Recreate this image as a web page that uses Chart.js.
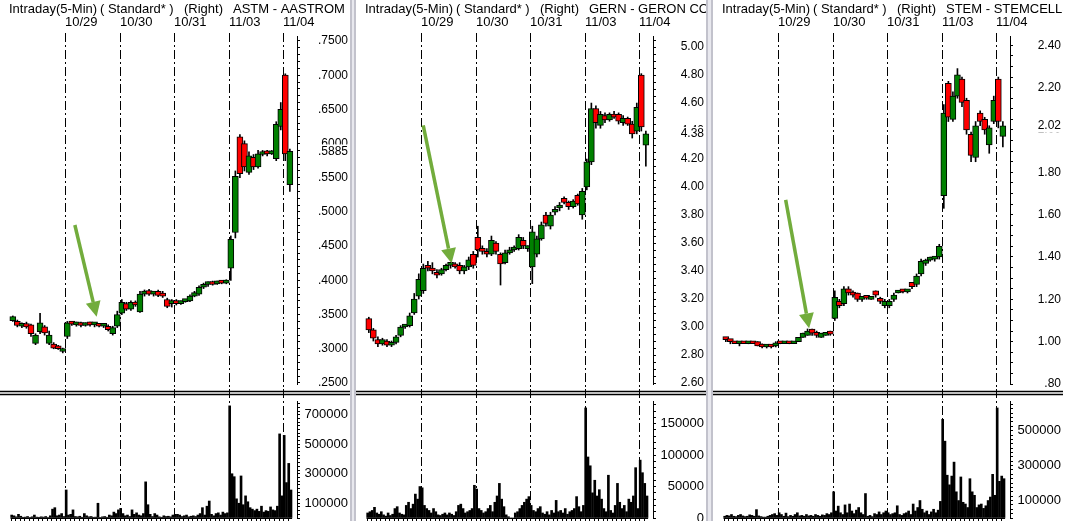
<!DOCTYPE html>
<html>
<head>
<meta charset="utf-8">
<script src="https://cdn.jsdelivr.net/npm/chart.js@4.4.0/dist/chart.umd.min.js"></script>
<style>
  body { margin: 0; background: #fff; width: 1065px; height: 521px; overflow: hidden; position: relative; }
  .panel { position: absolute; top: 0; width: 350px; height: 521px; overflow: hidden; }
  .panel canvas { position: absolute; left: 0; top: 0; }
  .split { position: absolute; top: 0; height: 521px; box-sizing: border-box;
           background: #e8e8ee; border-left: 2px solid #c2c2cc; border-right: 2px solid #c2c2cc; }
</style>
</head>
<body>
<div class="panel" style="left:0px">
  <canvas id="price0" width="350" height="389"></canvas>
  <canvas id="vol0" width="350" height="132" style="top:389px"></canvas>
</div>
<div class="split" style="left:350px;width:6px"></div>
<div class="panel" style="left:356px">
  <canvas id="price1" width="350" height="389"></canvas>
  <canvas id="vol1" width="350" height="132" style="top:389px"></canvas>
</div>
<div class="split" style="left:706px;width:7px"></div>
<div class="panel" style="left:713px;width:352px">
  <canvas id="price2" width="350" height="389"></canvas>
  <canvas id="vol2" width="350" height="132" style="top:389px"></canvas>
</div>

<script>
// Дни и подписи (12 свечей на день, 24 столбца объёма на день)
const dayLabels = ['10/29', '10/30', '10/31', '11/03', '11/04'];
const headerParts = ['Intraday(5-Min)', '( Standard* )', '(Right)'];
const candlesPerDay = 12;
const volPerDay = 24;

// ASTM - AASTROM
const astmOpen = [
  .341, .340, .333, .337, .335, .308, .325, .332, .308, .307, .303, .296,
  .318, .337, .335, .338, .334, .337, .335, .334, .333, .333, .322, .333,
  .352, .366, .358, .366, .354, .380, .385, .380, .384, .381, .372, .366,
  .370, .366, .369, .370, .377, .380, .390, .394, .397, .395, .398, .396,
  .418, .470, .610, .600, .558, .580, .566, .584, .589, .585, .578, .625,
  .700, .540
];
const astmHigh = [
  .348, .342, .338, .339, .336, .322, .352, .334, .326, .309, .305, .301,
  .340, .340, .339, .339, .338, .339, .337, .335, .335, .335, .333, .355,
  .372, .368, .370, .370, .384, .386, .387, .384, .386, .384, .374, .372,
  .372, .370, .371, .379, .384, .392, .396, .398, .399, .399, .400, .401,
  .465, .560, .613, .604, .588, .584, .590, .590, .590, .590, .632, .660,
  .702, .592
];
const astmLow = [
  .340, .332, .331, .330, .318, .306, .322, .320, .306, .300, .299, .294,
  .315, .334, .333, .332, .333, .333, .332, .332, .331, .326, .320, .331,
  .350, .356, .356, .362, .353, .377, .378, .377, .376, .375, .360, .361,
  .364, .365, .368, .369, .376, .378, .388, .391, .393, .394, .395, .395,
  .400, .462, .550, .560, .555, .562, .564, .582, .582, .584, .575, .620,
  .575, .530
];
const astmClose = [
  .347, .334, .337, .332, .322, .320, .338, .323, .320, .301, .300, .300,
  .338, .336, .338, .334, .337, .335, .336, .333, .334, .328, .331, .350,
  .368, .358, .368, .364, .380, .384, .380, .383, .378, .377, .362, .369,
  .366, .369, .370, .377, .382, .390, .394, .396, .394, .398, .396, .400,
  .460, .552, .556, .566, .582, .566, .585, .588, .585, .588, .628, .650,
  .585, .5885
];
const astmVolume = [
  20000, 15000, 8000, 25000, 12000, 5000, 6000, 10000, 4000, 8000, 20000, 6000, 5000, 8000, 6000, 10000, 3000, 15000, 60000, 70000, 15000, 20000, 30000, 10000,
  190000, 20000, 25000, 55000, 10000, 8000, 12000, 5000, 30000, 15000, 8000, 10000, 5000, 6000, 100000, 4000, 8000, 10000, 5000, 20000, 15000, 40000, 30000, 55000,
  65000, 30000, 15000, 20000, 10000, 55000, 25000, 35000, 20000, 15000, 30000, 245000, 90000, 25000, 10000, 30000, 20000, 8000, 5000, 15000, 10000, 12000, 8000, 20000,
  25000, 25000, 20000, 10000, 15000, 20000, 8000, 12000, 15000, 10000, 20000, 30000, 70000, 20000, 80000, 115000, 25000, 15000, 30000, 35000, 20000, 40000, 30000, 35000,
  760000, 300000, 280000, 130000, 100000, 285000, 90000, 150000, 110000, 70000, 60000, 50000, 60000, 45000, 80000, 40000, 50000, 45000, 75000, 55000, 50000, 80000, 570000, 150000,
  560000, 240000, 370000, 190000
];
const astmPriceTicks = [.25, .30, .35, .40, .45, .50, .55, .60, .65, .70, .75];
const astmVolTicks = [100000, 300000, 500000, 700000];
const astmArrow = { from: [1.18, .481], to: [1.58, .347] };

// GERN - GERON
const gernOpen = [
  3.06, 2.98, 2.91, 2.88, 2.90, 2.87, 2.89, 2.94, 3.00, 3.01, 3.10, 3.22,
  3.26, 3.44, 3.42, 3.38, 3.38, 3.41, 3.44, 3.45, 3.44, 3.40, 3.43, 3.52,
  3.64, 3.56, 3.54, 3.52, 3.60, 3.52, 3.46, 3.53, 3.55, 3.56, 3.62, 3.56,
  3.43, 3.52, 3.63, 3.80, 3.72, 3.82, 3.85, 3.92, 3.89, 3.86, 3.94, 3.80,
  4.00, 4.18, 4.56, 4.44, 4.51, 4.48, 4.52, 4.52, 4.46, 4.49, 4.45, 4.40,
  4.80, 4.30
];
const gernHigh = [
  3.07, 2.99, 2.93, 2.92, 2.91, 2.90, 2.94, 3.01, 3.02, 3.10, 3.24, 3.38,
  3.45, 3.47, 3.46, 3.41, 3.42, 3.45, 3.46, 3.46, 3.46, 3.44, 3.50, 3.54,
  3.72, 3.58, 3.56, 3.65, 3.61, 3.53, 3.55, 3.57, 3.58, 3.66, 3.64, 3.58,
  3.72, 3.65, 3.75, 3.82, 3.82, 3.86, 3.89, 3.93, 3.90, 3.91, 3.95, 3.99,
  4.20, 4.60, 4.58, 4.54, 4.53, 4.53, 4.54, 4.53, 4.51, 4.50, 4.47, 4.60,
  4.81, 4.40
];
const gernLow = [
  2.96, 2.90, 2.86, 2.87, 2.86, 2.86, 2.88, 2.93, 2.99, 3.00, 3.09, 3.20,
  3.24, 3.40, 3.38, 3.35, 3.37, 3.40, 3.42, 3.42, 3.38, 3.38, 3.41, 3.42,
  3.50, 3.52, 3.50, 3.51, 3.52, 3.30, 3.45, 3.52, 3.54, 3.55, 3.56, 3.54,
  3.31, 3.50, 3.62, 3.72, 3.70, 3.80, 3.83, 3.88, 3.84, 3.85, 3.87, 3.77,
  3.98, 4.16, 4.42, 4.42, 4.46, 4.47, 4.49, 4.45, 4.44, 4.44, 4.35, 4.38,
  4.40, 4.15
];
const gernClose = [
  2.98, 2.92, 2.88, 2.91, 2.87, 2.89, 2.93, 3.00, 3.01, 3.08, 3.20, 3.34,
  3.42, 3.42, 3.40, 3.37, 3.41, 3.44, 3.45, 3.43, 3.40, 3.43, 3.48, 3.44,
  3.55, 3.54, 3.52, 3.62, 3.54, 3.45, 3.53, 3.55, 3.57, 3.64, 3.58, 3.57,
  3.68, 3.63, 3.73, 3.74, 3.80, 3.84, 3.87, 3.89, 3.86, 3.90, 3.88, 3.97,
  4.18, 4.56, 4.46, 4.52, 4.48, 4.52, 4.50, 4.47, 4.49, 4.45, 4.38, 4.57,
  4.43, 4.38
];
const gernVolume = [
  8000, 10000, 12000, 17000, 8000, 6000, 10000, 5000, 3000, 8000, 4000, 6000, 15000, 18000, 8000, 6000, 5000, 20000, 25000, 15000, 22000, 38000, 30000, 50000,
  48000, 20000, 15000, 12000, 8000, 15000, 10000, 5000, 4000, 6000, 8000, 5000, 8000, 6000, 4000, 10000, 20000, 22000, 15000, 8000, 10000, 12000, 15000, 52000,
  46000, 15000, 12000, 8000, 10000, 15000, 20000, 10000, 25000, 35000, 55000, 30000, 18000, 5000, 2000, 0, 0, 8000, 10000, 15000, 20000, 25000, 30000, 34000,
  20000, 12000, 10000, 15000, 18000, 8000, 6000, 10000, 5000, 12000, 8000, 28000, 10000, 12000, 8000, 15000, 6000, 10000, 12000, 15000, 34000, 18000, 10000, 20000,
  175000, 97000, 83000, 40000, 60000, 35000, 45000, 30000, 15000, 10000, 68000, 12000, 8000, 20000, 55000, 25000, 15000, 20000, 10000, 30000, 25000, 35000, 80000, 15000,
  92000, 72000, 55000, 35000
];
const gernPriceTicks = [2.60, 2.80, 3.00, 3.20, 3.40, 3.60, 3.80, 4.00, 4.20, 4.40, 4.60, 4.80, 5.00];
const gernVolTicks = [0, 50000, 100000, 150000];
const gernArrow = { from: [1.04, 4.44], to: [1.56, 3.455] };

// STEM - STEMCELLS
const stemOpen = [
  1.02, 1.01, 1.00, 0.99, 1.00, 0.99, 1.00, 1.00, 0.98, 0.975, 0.98, 0.98,
  0.995, 0.99, 1.00, 0.99, 1.00, 1.02, 1.03, 1.06, 1.04, 1.02, 1.03, 1.05,
  1.11, 1.19, 1.18, 1.25, 1.23, 1.23, 1.20, 1.21, 1.20, 1.24, 1.20, 1.17,
  1.17, 1.20, 1.23, 1.24, 1.235, 1.28, 1.27, 1.32, 1.37, 1.385, 1.39, 1.40,
  1.69, 2.22, 2.05, 2.16, 2.24, 2.14, 1.98, 1.87, 2.08, 2.05, 1.93, 2.04,
  2.24, 1.97
];
const stemHigh = [
  1.02, 1.01, 1.00, 1.00, 1.00, 1.00, 1.00, 1.00, 0.99, 0.98, 0.98, 1.00,
  1.00, 1.00, 1.00, 1.00, 1.02, 1.04, 1.06, 1.06, 1.05, 1.04, 1.04, 1.05,
  1.24, 1.20, 1.26, 1.26, 1.24, 1.23, 1.21, 1.21, 1.21, 1.24, 1.21, 1.20,
  1.20, 1.23, 1.24, 1.24, 1.24, 1.28, 1.32, 1.39, 1.39, 1.40, 1.40, 1.46,
  2.12, 2.23, 2.18, 2.29, 2.25, 2.15, 1.99, 2.04, 2.09, 2.06, 2.02, 2.16,
  2.25, 2.04
];
const stemLow = [
  1.00, 0.99, 0.99, 0.98, 0.99, 0.99, 0.99, 0.98, 0.97, 0.97, 0.97, 0.975,
  0.99, 0.99, 0.99, 0.99, 1.00, 1.02, 1.03, 1.03, 1.02, 1.02, 1.03, 1.03,
  1.10, 1.16, 1.17, 1.22, 1.21, 1.19, 1.19, 1.20, 1.20, 1.21, 1.18, 1.16,
  1.16, 1.19, 1.23, 1.23, 1.23, 1.25, 1.26, 1.31, 1.36, 1.38, 1.38, 1.39,
  1.63, 2.04, 2.04, 2.15, 2.11, 1.98, 1.85, 1.85, 2.02, 1.98, 1.89, 2.03,
  2.01, 1.92
];
const stemClose = [
  1.01, 1.00, 0.99, 1.00, 0.99, 1.00, 0.99, 0.98, 0.975, 0.98, 0.975, 0.995,
  0.99, 1.00, 0.99, 1.00, 1.02, 1.04, 1.05, 1.04, 1.03, 1.04, 1.04, 1.035,
  1.21, 1.17, 1.25, 1.23, 1.22, 1.20, 1.21, 1.205, 1.21, 1.22, 1.19, 1.19,
  1.19, 1.22, 1.24, 1.235, 1.24, 1.26, 1.31, 1.38, 1.385, 1.39, 1.395, 1.45,
  2.08, 2.06, 2.16, 2.26, 2.13, 2.00, 1.88, 2.02, 2.04, 2.00, 2.01, 2.14,
  2.04, 2.02
];
const stemVolume = [
  10000, 15000, 12000, 20000, 10000, 8000, 15000, 20000, 12000, 8000, 10000, 18000, 15000, 10000, 48000, 12000, 8000, 5000, 5000, 10000, 15000, 20000, 25000, 15000,
  30000, 20000, 10000, 28000, 8000, 15000, 10000, 20000, 30000, 12000, 15000, 10000, 20000, 12000, 15000, 10000, 20000, 15000, 10000, 18000, 15000, 25000, 20000, 30000,
  150000, 40000, 68000, 30000, 20000, 75000, 30000, 80000, 40000, 25000, 45000, 60000, 30000, 20000, 140000, 10000, 15000, 8000, 25000, 20000, 35000, 20000, 30000, 40000,
  30000, 20000, 25000, 30000, 70000, 20000, 15000, 25000, 30000, 40000, 20000, 80000, 40000, 60000, 100000, 50000, 30000, 40000, 20000, 35000, 50000, 30000, 45000, 95000,
  565000, 440000, 245000, 190000, 240000, 320000, 150000, 100000, 235000, 90000, 80000, 60000, 225000, 150000, 130000, 60000, 75000, 80000, 55000, 70000, 100000, 120000, 250000, 130000,
  630000, 210000, 240000, 225000
];
const stemPriceTicks = [0.80, 1.00, 1.20, 1.40, 1.60, 1.80, 2.00, 2.20, 2.40];
const stemVolTicks = [100000, 300000, 500000];
const stemArrow = { from: [1.14, 1.67], to: [1.57, 1.063] };

// Общие настройки отрисовки
const fontFamily = '"Liberation Sans", Arial, sans-serif';
const headerX = [9, 100, 184, 233];
const dayDash = [9, 3, 2, 3];
const upColor = '#008000';
const downColor = '#ff0000';
const arrowColor = '#72ac3c';
const xMin = -0.12, xMax = 5.256;
const axisWidth = 53;

const panels = [
  { id: 0, name: 'ASTM - AASTROM', open: astmOpen, high: astmHigh, low: astmLow, close: astmClose,
    volume: astmVolume, priceTicks: astmPriceTicks, priceMin: .2485, priceMax: .7573, minorStep: .01, digits: 4,
    volTicks: astmVolTicks, volMax: 793000, volMinor: 25000, arrow: astmArrow },
  { id: 1, name: 'GERN - GERON CORP', open: gernOpen, high: gernHigh, low: gernLow, close: gernClose,
    volume: gernVolume, priceTicks: gernPriceTicks, priceMin: 2.593, priceMax: 5.079, minorStep: .05, digits: 2,
    volTicks: gernVolTicks, volMax: 186000, volMinor: 10000, arrow: gernArrow },
  { id: 2, name: 'STEM - STEMCELLS INC', open: stemOpen, high: stemHigh, low: stemLow, close: stemClose,
    volume: stemVolume, priceTicks: stemPriceTicks, priceMin: 0.80, priceMax: 2.444, minorStep: .05, digits: 2,
    volTicks: stemVolTicks, volMax: 670000, volMinor: 25000, arrow: stemArrow }
];

function candleX(i) {
  return Math.floor(i / candlesPerDay) + ((i % candlesPerDay) + 0.5) / candlesPerDay;
}
function volX(j) {
  return Math.floor(j / volPerDay) + ((j % volPerDay) + 0.5) / volPerDay;
}
function stepValues(min, max, step) {
  const out = [];
  let k = Math.ceil(min / step - 1e-9);
  while (k * step <= max + 1e-9) { out.push(+(k * step).toFixed(6)); k++; }
  return out;
}
function fmt(v, digits) {
  return v.toFixed(digits).replace(/^0\./, '.');
}

function drawDayLines(chart, top) {
  const { ctx, scales: { x } } = chart;
  ctx.save();
  ctx.strokeStyle = '#000';
  ctx.lineWidth = 1;
  ctx.setLineDash(dayDash);
  dayLabels.forEach((lab, k) => {
    const px = Math.round(x.getPixelForValue(k + 1)) + 0.5;
    ctx.beginPath();
    ctx.moveTo(px, top);
    ctx.lineTo(px, chart.height);
    ctx.stroke();
  });
  ctx.restore();
}

function drawArrow(chart, a) {
  const { ctx, scales: { x, y } } = chart;
  const x0 = x.getPixelForValue(a.from[0]), y0 = y.getPixelForValue(a.from[1]);
  const x1 = x.getPixelForValue(a.to[0]), y1 = y.getPixelForValue(a.to[1]);
  const ang = Math.atan2(y1 - y0, x1 - x0);
  const headLen = 15, headHalf = 7.5;
  const bx = x1 - headLen * Math.cos(ang), by = y1 - headLen * Math.sin(ang);
  ctx.save();
  ctx.strokeStyle = arrowColor;
  ctx.fillStyle = arrowColor;
  ctx.lineWidth = 3.5;
  ctx.beginPath();
  ctx.moveTo(x0, y0);
  ctx.lineTo(bx, by);
  ctx.stroke();
  ctx.beginPath();
  ctx.moveTo(x1, y1);
  ctx.lineTo(bx + headHalf * Math.sin(ang), by - headHalf * Math.cos(ang));
  ctx.lineTo(bx - headHalf * Math.sin(ang), by + headHalf * Math.cos(ang));
  ctx.closePath();
  ctx.fill();
  ctx.restore();
}

function priceDeco(p) {
  return {
    id: 'priceDeco' + p.id,
    beforeDatasetsDraw(chart) {
      const { ctx, scales: { x } } = chart;
      ctx.save();
      ctx.fillStyle = '#000';
      ctx.font = '13px ' + fontFamily;
      ctx.textAlign = 'left';
      ctx.textBaseline = 'alphabetic';
      headerParts.concat([p.name]).forEach((t, k) => ctx.fillText(t, headerX[k], 13));
      dayLabels.forEach((lab, k) => ctx.fillText(lab, Math.round(x.getPixelForValue(k + 1)), 26));
      ctx.restore();
      drawDayLines(chart, 33);
    },
    afterDatasetsDraw(chart) {
      drawArrow(chart, p.arrow);
    },
    afterDraw(chart) {
      const { ctx, chartArea, scales: { y } } = chart;
      const lx = chartArea.right + 51;
      ctx.save();
      ctx.font = '12px ' + fontFamily;
      ctx.textAlign = 'right';
      ctx.textBaseline = 'middle';
      ctx.fillStyle = '#000';
      p.priceTicks.forEach(v => ctx.fillText(fmt(v, p.digits), lx, y.getPixelForValue(v)));
      // последняя цена поверх шкалы
      const last = p.close[p.close.length - 1];
      const ly = y.getPixelForValue(last);
      const txt = fmt(last, p.digits);
      const w = ctx.measureText(txt).width;
      ctx.fillStyle = '#fff';
      ctx.fillRect(lx - w - 2, ly - 7, w + 4, 14);
      ctx.fillStyle = '#000';
      ctx.fillText(txt, lx, ly);
      ctx.restore();
    }
  };
}

function volumeDeco(p) {
  return {
    id: 'volumeDeco' + p.id,
    beforeDatasetsDraw(chart) {
      const { ctx, chartArea, scales: { x } } = chart;
      drawDayLines(chart, 0);
      ctx.save();
      ctx.strokeStyle = '#000';
      ctx.lineWidth = 1.3;
      [2.5, 5.5].forEach(yy => {
        ctx.beginPath();
        ctx.moveTo(0, yy);
        ctx.lineTo(chart.width, yy);
        ctx.stroke();
      });
      // нижняя ось времени
      ctx.lineWidth = 1;
      const base = Math.round(chartArea.bottom) + 0.5;
      const lastX = volX(p.volume.length - 1) + 0.5 / volPerDay;
      ctx.beginPath();
      ctx.moveTo(x.getPixelForValue(0), base);
      ctx.lineTo(x.getPixelForValue(lastX), base);
      for (let t = 0; t / candlesPerDay <= lastX; t++) {
        const tx = Math.round(x.getPixelForValue(t / candlesPerDay)) + 0.5;
        ctx.moveTo(tx, base);
        ctx.lineTo(tx, base + 4);
      }
      ctx.stroke();
      ctx.restore();
    },
    afterDraw(chart) {
      const { ctx, chartArea, scales: { y } } = chart;
      ctx.save();
      ctx.font = '13px ' + fontFamily;
      ctx.textAlign = 'right';
      ctx.textBaseline = 'middle';
      ctx.fillStyle = '#000';
      p.volTicks.forEach(v => ctx.fillText(String(v), chartArea.right + 51, y.getPixelForValue(v)));
      ctx.restore();
    }
  };
}

function rightAxis(min, max, tickValues) {
  return {
    type: 'linear',
    position: 'right',
    min: min,
    max: max,
    afterBuildTicks: s => { s.ticks = tickValues.map(v => ({ value: v })); },
    afterFit: s => { s.width = axisWidth; },
    ticks: { display: false, autoSkip: false },
    grid: { drawOnChartArea: false, tickLength: 3, color: '#000' },
    border: { color: '#000' }
  };
}

const xAxis = { type: 'linear', display: false, min: xMin, max: xMax, offset: false };

panels.forEach(p => {
  // свечи: тени и тела как плавающие столбцы
  new Chart(document.getElementById('price' + p.id), {
    type: 'bar',
    data: {
      datasets: [
        {
          data: p.low.map((l, i) => ({ x: candleX(i), y: [l, p.high[i]] })),
          backgroundColor: '#000',
          barThickness: 1,
          grouped: false,
          order: 2
        },
        {
          data: p.open.map((o, i) => ({ x: candleX(i), y: [o, p.close[i]] })),
          backgroundColor: p.open.map((o, i) => p.close[i] >= o ? upColor : downColor),
          borderColor: '#000',
          borderWidth: 1,
          borderSkipped: false,
          barThickness: 6,
          minBarLength: 3,
          grouped: false,
          order: 1
        }
      ]
    },
    options: {
      responsive: false,
      animation: false,
      devicePixelRatio: 1,
      events: [],
      layout: { padding: { left: 4, right: 0, top: 36, bottom: 5 } },
      plugins: { legend: { display: false }, tooltip: { enabled: false } },
      scales: {
        x: xAxis,
        y: rightAxis(p.priceMin, p.priceMax, stepValues(p.priceMin, p.priceMax, p.minorStep))
      }
    },
    plugins: [priceDeco(p)]
  });

  // объём
  new Chart(document.getElementById('vol' + p.id), {
    type: 'bar',
    data: {
      datasets: [{
        data: p.volume.map((v, j) => ({ x: volX(j), y: v })),
        backgroundColor: '#000',
        barThickness: 2,
        grouped: false
      }]
    },
    options: {
      responsive: false,
      animation: false,
      devicePixelRatio: 1,
      events: [],
      layout: { padding: { left: 4, right: 0, top: 12, bottom: 3 } },
      plugins: { legend: { display: false }, tooltip: { enabled: false } },
      scales: {
        x: xAxis,
        y: rightAxis(0, p.volMax, stepValues(0, p.volMax, p.volMinor))
      }
    },
    plugins: [volumeDeco(p)]
  });
});
</script>
</body>
</html>
